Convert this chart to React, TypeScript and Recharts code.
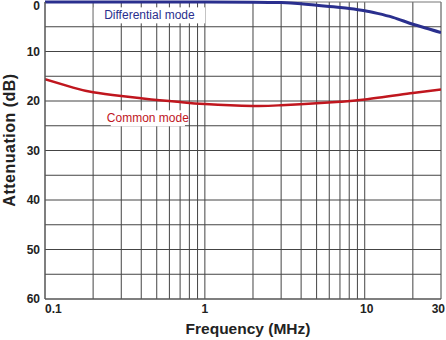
import React from 'react';
import { LineChart, Line, XAxis, YAxis, ReferenceLine, ReferenceDot, Customized } from 'recharts';

const diffFreq = [0.1, 0.3, 1, 2, 3, 4, 5, 6, 7, 8, 10, 12, 15, 20, 25, 30];
const diffAtt = [0, 0, 0, 0.03, 0.12, 0.35, 0.65, 0.9, 1.1, 1.3, 1.75, 2.3, 3.1, 4.5, 5.4, 6.2];
const commonFreq = [0.1, 0.15, 0.2, 0.3, 0.4, 0.5, 0.7, 1, 2, 3, 5, 7, 10, 20, 30];
const commonAtt = [15.6, 17.3, 18.25, 19.0, 19.45, 19.8, 20.2, 20.6, 21.0, 20.85, 20.45, 20.15, 19.7, 18.4, 17.7];
const xTicks = [0.1, 1, 10, 30];
const yTicks = [0, 10, 20, 30, 40, 50, 60];
const xGrid = [0.2, 0.3, 0.4, 0.5, 0.6, 0.7, 0.8, 0.9, 1, 2, 3, 4, 5, 6, 7, 8, 9, 10, 20, 30];
const yGrid = [5, 10, 15, 20, 25, 30, 35, 40, 45, 50, 55];
const labels = [
  { text: 'Differential mode', x: 0.45, y: 2.7, color: '#2a2f8e' },
  { text: 'Common mode', x: 0.44, y: 23.5, color: '#c0161e' },
];

const diffData = diffFreq.map((f, i) => ({ f, v: diffAtt[i] }));
const commonData = commonFreq.map((f, i) => ({ f, v: commonAtt[i] }));

const FONT = 'Liberation Sans, Arial, Helvetica, sans-serif';

const makeLabel = (text: string, color: string) => (props: any) => {
  const { viewBox } = props;
  const cx = viewBox.x + (viewBox.width || 0) / 2;
  const cy = viewBox.y + (viewBox.height || 0) / 2;
  const w = text.length * 6.2 + 6;
  return (
    <g>
      <rect x={cx - w / 2} y={cy - 8} width={w} height={16} fill="#fff" />
      <text x={cx} y={cy} textAnchor="middle" dominantBaseline="central" fill={color} fontSize={12} fontFamily={FONT}>
        {text}
      </text>
    </g>
  );
};

const XTick = (props: any) => {
  const { x, y, payload } = props;
  const v = payload.value;
  let anchor: any = 'middle';
  let xx = x;
  if (v === 0.1) { anchor = 'start'; xx = x; }
  if (v === 30) { anchor = 'end'; xx = x + 4; }
  if (v === 10) { xx = x + 2; }
  return (
    <text x={xx} y={y} dy={10} textAnchor={anchor} dominantBaseline="central" fill="#222" fontSize={12} fontWeight="bold" fontFamily={FONT}>
      {String(v)}
    </text>
  );
};

const YTick = (props: any) => {
  const { x, y, payload } = props;
  const yy = Math.max(y, 6);
  return (
    <text x={x} y={yy} textAnchor="end" dominantBaseline="central" fill="#222" fontSize={12} fontWeight="bold" fontFamily={FONT}>
      {String(payload.value)}
    </text>
  );
};

const YTitle = () => (
  <text x={9} y={140} transform="rotate(-90 9 140)" textAnchor="middle" dominantBaseline="central" fill="#222" fontSize={16} letterSpacing={0.5} fontWeight="bold" fontFamily={FONT}>
    Attenuation (dB)
  </text>
);

export default function App() {
  return (
    <div style={{ position: 'absolute', left: 0, top: 0, background: '#fff' }}>
      <LineChart width={446} height={340} margin={{ top: 2, right: 5, bottom: 0, left: 0 }}>
        <XAxis
          dataKey="f"
          type="number"
          scale="log"
          domain={[0.1, 30]}
          ticks={xTicks}
          interval={0}
          allowDataOverflow
          height={41}
          axisLine={{ stroke: '#555', strokeWidth: 1.5 }}
          tickLine={false}
          tickSize={0}
          tickMargin={0}
          tick={XTick}
          label={{ value: 'Frequency (MHz)', position: 'insideBottom', offset: 6, dx: 5, fill: '#222', fontSize: 15.5, fontWeight: 'bold', fontFamily: FONT }}
        />
        <YAxis
          type="number"
          reversed
          domain={[0, 60]}
          ticks={yTicks}
          interval={0}
          width={45}
          axisLine={{ stroke: '#555', strokeWidth: 1.5 }}
          tickLine={false}
          tickSize={3}
          tickMargin={2}
          tick={YTick}
        />
        {xGrid.map((x) => (
          <ReferenceLine key={'x' + x} x={x} stroke="#444" strokeWidth={1} ifOverflow="visible" />
        ))}
        {yGrid.map((y) => (
          <ReferenceLine key={'y' + y} y={y} stroke="#444" strokeWidth={1} />
        ))}
        <ReferenceLine y={0} stroke="#777" strokeWidth={1} />
        {labels.map((l) => (
          <ReferenceDot key={l.text} x={l.x} y={l.y} r={0} stroke="none" fill="none" label={makeLabel(l.text, l.color)} />
        ))}
        <Line data={commonData} dataKey="v" type="natural" stroke="#c0161e" strokeWidth={2.5} dot={false} isAnimationActive={false} />
        <Line data={diffData} dataKey="v" type="monotone" stroke="#2a2f8e" strokeWidth={3} dot={false} isAnimationActive={false} />
        <Customized component={YTitle} />
      </LineChart>
    </div>
  );
}
